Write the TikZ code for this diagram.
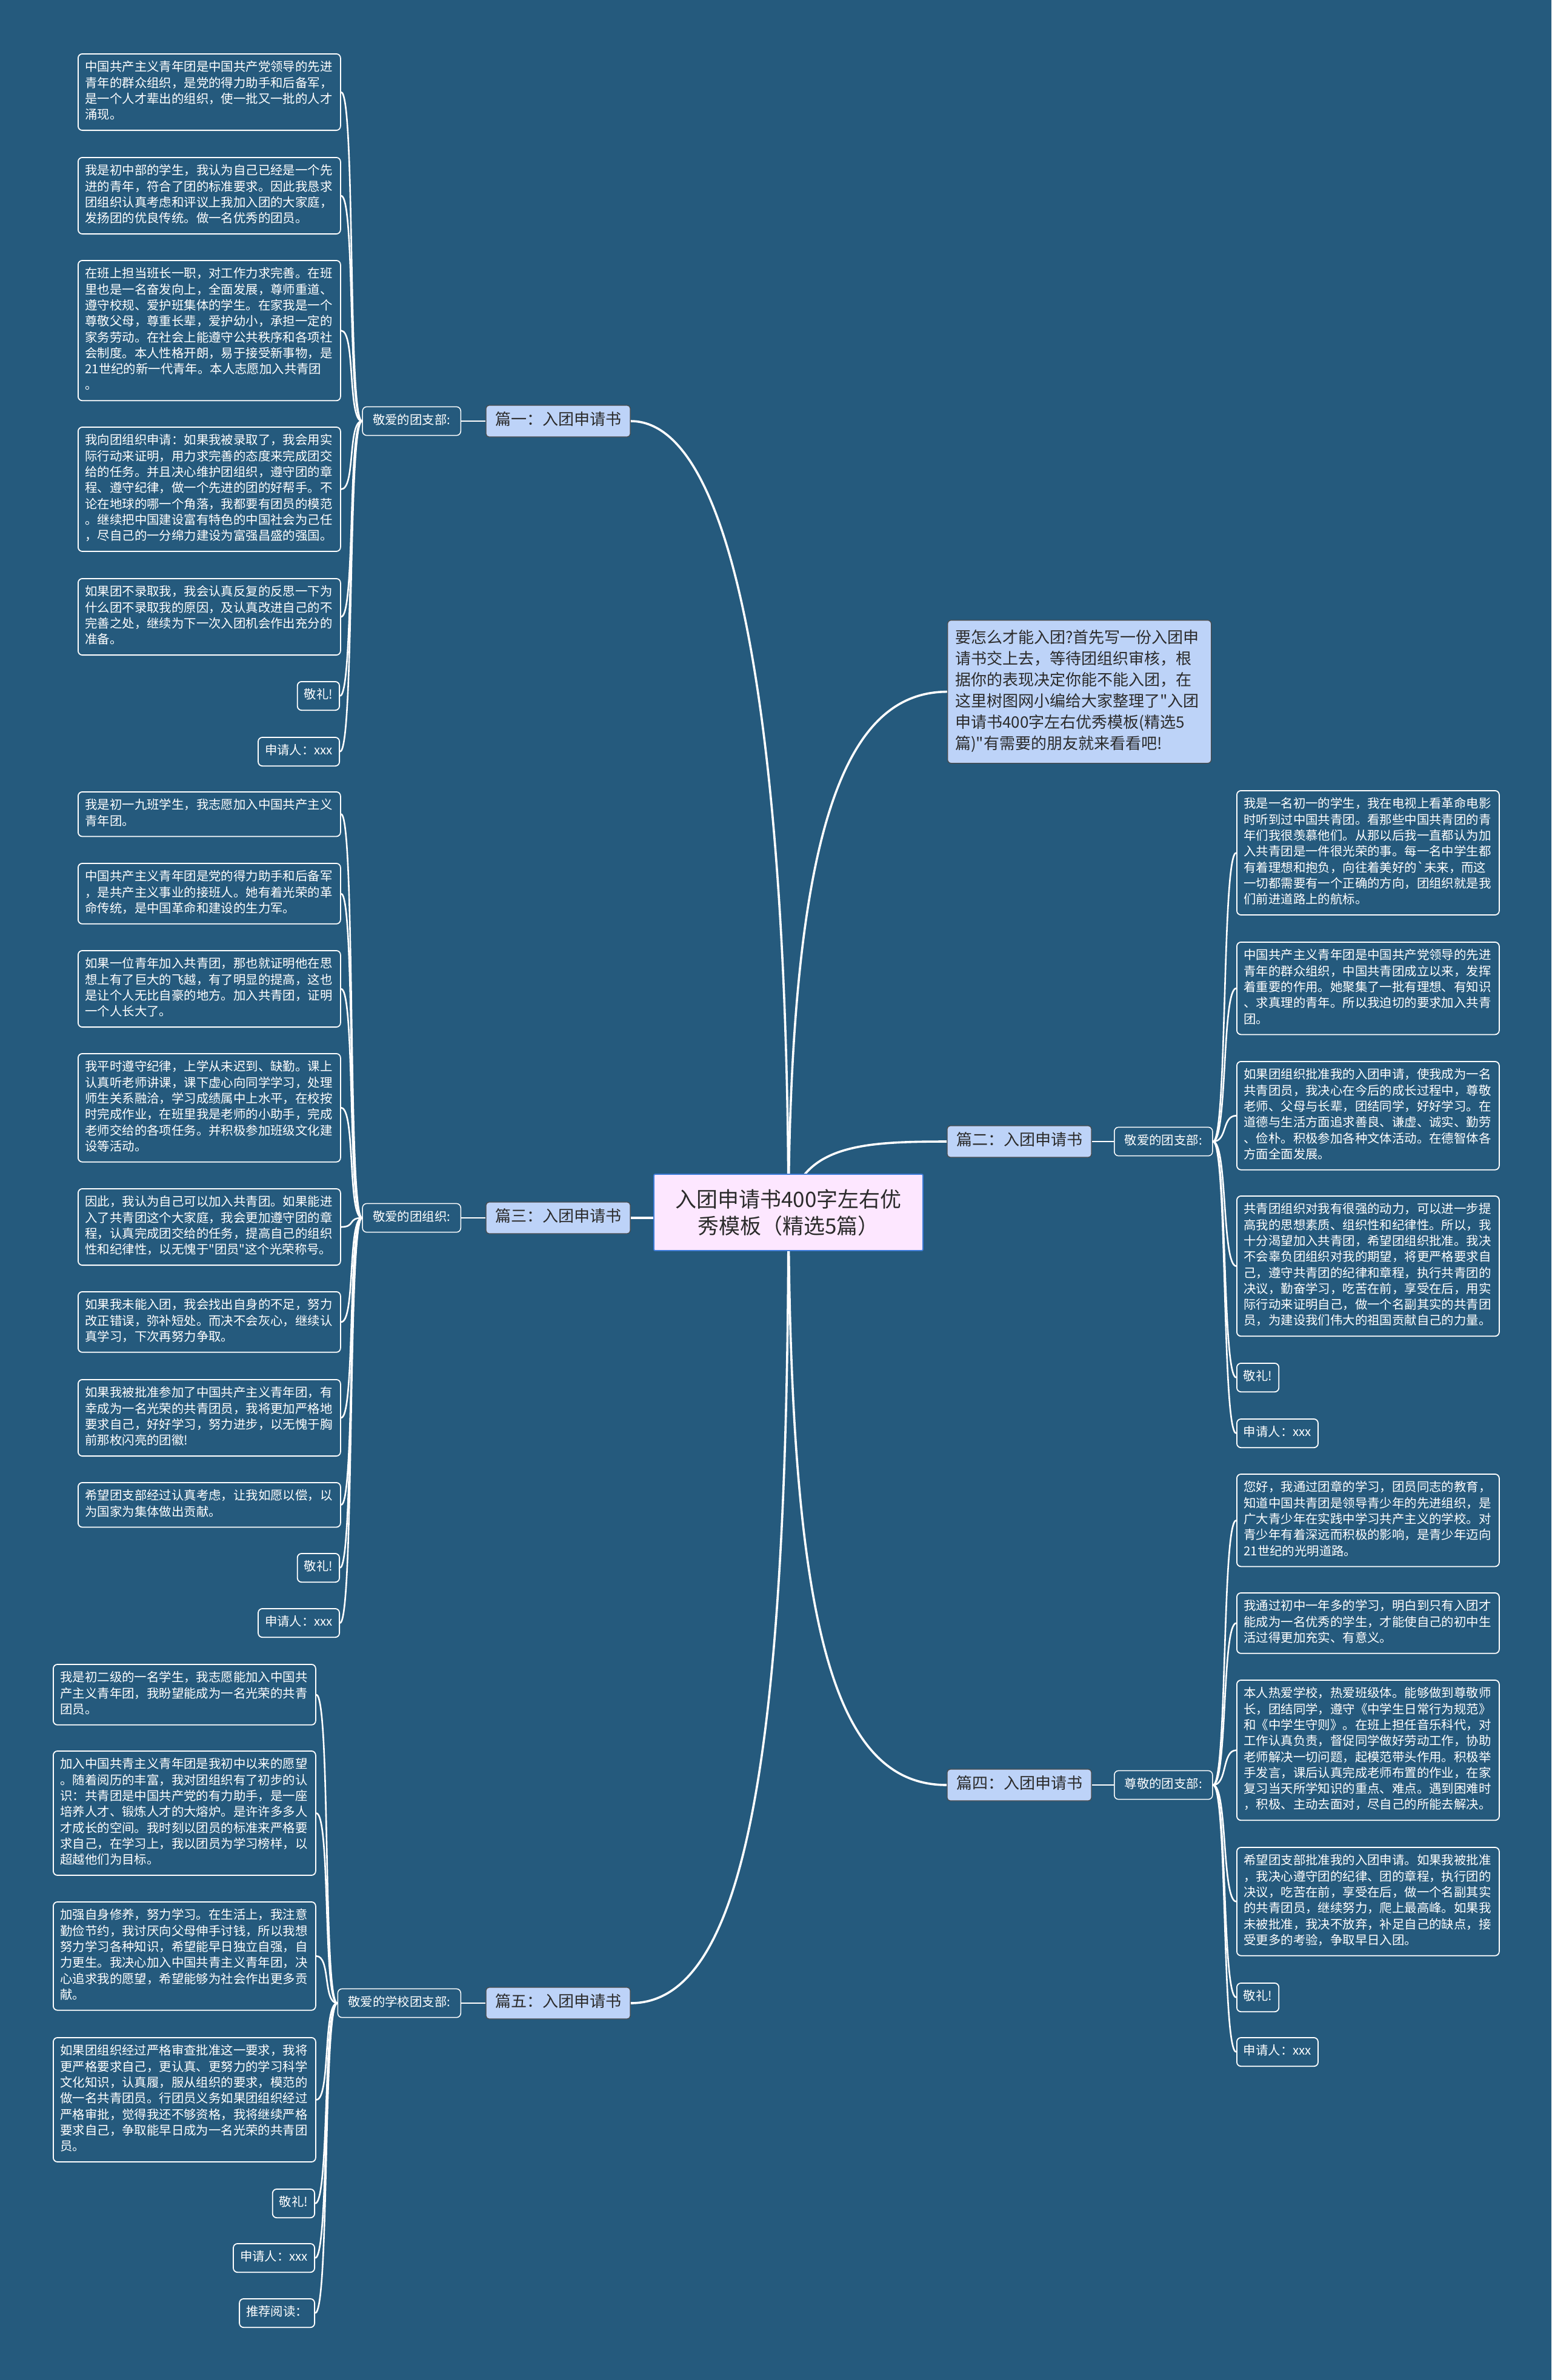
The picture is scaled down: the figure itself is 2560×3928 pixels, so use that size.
\documentclass[tikz,border=0pt]{standalone}
\usepackage{fontspec}
\setmainfont{Noto Sans CJK SC}
\newfontfamily\mmfont{Noto Sans CJK SC}
\definecolor{bgc}{HTML}{255A7D}
\definecolor{lblue}{HTML}{BDD3F8}
\definecolor{pinkc}{HTML}{FDE7FF}
\definecolor{darkt}{HTML}{2B2B2B}
\definecolor{cborder}{HTML}{3C7CD8}
\pgfdeclarelayer{bglayer}
\pgfdeclarelayer{edgelayer}
\pgfsetlayers{bglayer,edgelayer,main}
\newcommand\mmleaf{\mmfont\fontsize{20.4}{26.3}\selectfont}
\newcommand\mmbranch{\mmfont\fontsize{26}{32}\selectfont}
\newcommand\mmintro{\mmfont\fontsize{26}{35}\selectfont}
\newcommand\mmcenter{\mmfont\fontsize{35}{44}\selectfont}
\tikzset{
  leafbox/.style={draw=white, line width=1.8pt, rounded corners=7pt, fill=bgc, text=white,
    font=\mmleaf, text width=410pt, align=left, inner xsep=11.5pt, inner ysep=10.5pt,
    execute at begin node=\strut, execute at end node=\strut},
  smallbox/.style={draw=white, line width=1.8pt, rounded corners=7pt, fill=bgc, text=white,
    font=\mmleaf, inner xsep=11pt, inner ysep=10.5pt,
    execute at begin node=\strut, execute at end node=\strut},
  sublabel/.style={smallbox, line width=1.5pt, inner xsep=17pt},
  branch/.style={draw=darkt!85, line width=1.3pt, rounded corners=5pt, fill=lblue, text=darkt,
    font=\mmbranch, minimum width=238pt, inner xsep=14pt, inner ysep=10pt,
    execute at begin node=\strut},
  introbox/.style={draw=darkt!85, line width=1.3pt, rounded corners=6pt, fill=lblue, text=darkt,
    font=\mmintro, text width=410pt, align=left, inner xsep=12.5pt, inner ysep=13pt,
    execute at begin node=\strut, execute at end node=\strut},
  centerbox/.style={draw=cborder, line width=1.8pt, rounded corners=2pt, fill=pinkc, text=darkt,
    font=\mmcenter, minimum width=444pt, minimum height=126pt, align=center},
  conn/.style={white, line width=2.6pt},
  mainconn/.style={white, line width=3.6pt}
}
\begin{document}
\begin{tikzpicture}[x=1pt,y=-1pt]
\useasboundingbox (0,0) rectangle (2560,3928);
\begin{pgfonlayer}{bglayer}
\fill[bgc] (0,0) rectangle (2560,3928);
\end{pgfonlayer}

% center
\node[centerbox] (ctr) at (1301,2001) {入团申请书400字左右优\\秀模板（精选5篇）};

% intro
\node[introbox, anchor=north west] (intro) at (1563,1023) {要怎么才能入团?首先写一份入团申\\请书交上去，等待团组织审核，根\\据你的表现决定你能不能入团，在\\这里树图网小编给大家整理了"入团\\申请书400字左右优秀模板(精选5\\篇)"有需要的朋友就来看看吧!};

% branches
\node[branch] (b1) at (921,695) {篇一：入团申请书};
\node[branch] (b3) at (921,2010) {篇三：入团申请书};
\node[branch] (b5) at (921,3306) {篇五：入团申请书};
\node[branch] (b2) at (1682,1884) {篇二：入团申请书};
\node[branch] (b4) at (1682,2946) {篇四：入团申请书};

% sublabels
\node[sublabel, anchor=east] (s1) at (761,695) {敬爱的团支部:};
\node[sublabel, anchor=east] (s3) at (761,2010) {敬爱的团组织:};
\node[sublabel, anchor=east] (s5) at (761,3306) {敬爱的学校团支部:};
\node[sublabel, anchor=west] (s2) at (1838,1884) {敬爱的团支部:};
\node[sublabel, anchor=west] (s4) at (1838,2946) {尊敬的团支部:};

% ---- 篇一 leaves
\node[leafbox, anchor=north west] (a1) at (128,88) {中国共产主义青年团是中国共产党领导的先进\\青年的群众组织，是党的得力助手和后备军，\\是一个人才辈出的组织，使一批又一批的人才\\涌现。};
\node[leafbox, anchor=north west] (a2) at (128,259) {我是初中部的学生，我认为自己已经是一个先\\进的青年，符合了团的标准要求。因此我恳求\\团组织认真考虑和评议上我加入团的大家庭，\\发扬团的优良传统。做一名优秀的团员。};
\node[leafbox, anchor=north west] (a3) at (128,429) {在班上担当班长一职，对工作力求完善。在班\\里也是一名奋发向上，全面发展，尊师重道、\\遵守校规、爱护班集体的学生。在家我是一个\\尊敬父母，尊重长辈，爱护幼小，承担一定的\\家务劳动。在社会上能遵守公共秩序和各项社\\会制度。本人性格开朗，易于接受新事物，是\\21世纪的新一代青年。本人志愿加入共青团\\。};
\node[leafbox, anchor=north west] (a4) at (128,704) {我向团组织申请：如果我被录取了，我会用实\\际行动来证明，用力求完善的态度来完成团交\\给的任务。并且决心维护团组织，遵守团的章\\程、遵守纪律，做一个先进的团的好帮手。不\\论在地球的哪一个角落，我都要有团员的模范\\。继续把中国建设富有特色的中国社会为己任\\，尽自己的一分绵力建设为富强昌盛的强国。};
\node[leafbox, anchor=north west] (a5) at (128,954) {如果团不录取我，我会认真反复的反思一下为\\什么团不录取我的原因，及认真改进自己的不\\完善之处，继续为下一次入团机会作出充分的\\准备。};
\node[smallbox, anchor=north east] (a6) at (561,1124) {敬礼!};
\node[smallbox, anchor=north east] (a7) at (561,1216) {申请人：xxx};

% ---- 篇三 leaves
\node[leafbox, anchor=north west] (c1) at (128,1306) {我是初一九班学生，我志愿加入中国共产主义\\青年团。};
\node[leafbox, anchor=north west] (c2) at (128,1424) {中国共产主义青年团是党的得力助手和后备军\\，是共产主义事业的接班人。她有着光荣的革\\命传统，是中国革命和建设的生力军。};
\node[leafbox, anchor=north west] (c3) at (128,1568) {如果一位青年加入共青团，那也就证明他在思\\想上有了巨大的飞越，有了明显的提高，这也\\是让个人无比自豪的地方。加入共青团，证明\\一个人长大了。};
\node[leafbox, anchor=north west] (c4) at (128,1738) {我平时遵守纪律，上学从未迟到、缺勤。课上\\认真听老师讲课，课下虚心向同学学习，处理\\师生关系融洽，学习成绩属中上水平，在校按\\时完成作业，在班里我是老师的小助手，完成\\老师交给的各项任务。并积极参加班级文化建\\设等活动。};
\node[leafbox, anchor=north west] (c5) at (128,1961) {因此，我认为自己可以加入共青团。如果能进\\入了共青团这个大家庭，我会更加遵守团的章\\程，认真完成团交给的任务，提高自己的组织\\性和纪律性，以无愧于"团员"这个光荣称号。};
\node[leafbox, anchor=north west] (c6) at (128,2131) {如果我未能入团，我会找出自身的不足，努力\\改正错误，弥补短处。而决不会灰心，继续认\\真学习，下次再努力争取。};
\node[leafbox, anchor=north west] (c7) at (128,2276) {如果我被批准参加了中国共产主义青年团，有\\幸成为一名光荣的共青团员，我将更加严格地\\要求自己，好好学习，努力进步，以无愧于胸\\前那枚闪亮的团徽!};
\node[leafbox, anchor=north west] (c8) at (128,2446) {希望团支部经过认真考虑，让我如愿以偿，以\\为国家为集体做出贡献。};
\node[smallbox, anchor=north east] (c9) at (561,2563) {敬礼!};
\node[smallbox, anchor=north east] (c10) at (561,2654) {申请人：xxx};

% ---- 篇五 leaves
\node[leafbox, anchor=north west] (e1) at (87,2746) {我是初二级的一名学生，我志愿能加入中国共\\产主义青年团，我盼望能成为一名光荣的共青\\团员。};
\node[leafbox, anchor=north west] (e2) at (87,2889) {加入中国共青主义青年团是我初中以来的愿望\\。随着阅历的丰富，我对团组织有了初步的认\\识：共青团是中国共产党的有力助手，是一座\\培养人才、锻炼人才的大熔炉。是许许多多人\\才成长的空间。我时刻以团员的标准来严格要\\求自己，在学习上，我以团员为学习榜样，以\\超越他们为目标。};
\node[leafbox, anchor=north west] (e3) at (87,3138) {加强自身修养，努力学习。在生活上，我注意\\勤俭节约，我讨厌向父母伸手讨钱，所以我想\\努力学习各种知识，希望能早日独立自强，自\\力更生。我决心加入中国共青主义青年团，决\\心追求我的愿望，希望能够为社会作出更多贡\\献。};
\node[leafbox, anchor=north west] (e4) at (87,3362) {如果团组织经过严格审查批准这一要求，我将\\更严格要求自己，更认真、更努力的学习科学\\文化知识，认真履，服从组织的要求，模范的\\做一名共青团员。行团员义务如果团组织经过\\严格审批，觉得我还不够资格，我将继续严格\\要求自己，争取能早日成为一名光荣的共青团\\员。};
\node[smallbox, anchor=north east] (e5) at (520,3612) {敬礼!};
\node[smallbox, anchor=north east] (e6) at (520,3702) {申请人：xxx};
\node[smallbox, anchor=north east] (e7) at (520,3793) {推荐阅读：};

% ---- 篇二 leaves
\node[leafbox, anchor=north west] (r1) at (2040,1304) {我是一名初一的学生，我在电视上看革命电影\\时听到过中国共青团。看那些中国共青团的青\\年们我很羡慕他们。从那以后我一直都认为加\\入共青团是一件很光荣的事。每一名中学生都\\有着理想和抱负，向往着美好的`未来，而这\\一切都需要有一个正确的方向，团组织就是我\\们前进道路上的航标。};
\node[leafbox, anchor=north west] (r2) at (2040,1554) {中国共产主义青年团是中国共产党领导的先进\\青年的群众组织，中国共青团成立以来，发挥\\着重要的作用。她聚集了一批有理想、有知识\\、求真理的青年。所以我迫切的要求加入共青\\团。};
\node[leafbox, anchor=north west] (r3) at (2040,1751) {如果团组织批准我的入团申请，使我成为一名\\共青团员，我决心在今后的成长过程中，尊敬\\老师、父母与长辈，团结同学，好好学习。在\\道德与生活方面追求善良、谦虚、诚实、勤劳\\、俭朴。积极参加各种文体活动。在德智体各\\方面全面发展。};
\node[leafbox, anchor=north west] (r4) at (2040,1973) {共青团组织对我有很强的动力，可以进一步提\\高我的思想素质、组织性和纪律性。所以，我\\十分渴望加入共青团，希望团组织批准。我决\\不会辜负团组织对我的期望，将更严格要求自\\己，遵守共青团的纪律和章程，执行共青团的\\决议，勤奋学习，吃苦在前，享受在后，用实\\际行动来证明自己，做一个名副其实的共青团\\员，为建设我们伟大的祖国贡献自己的力量。};
\node[smallbox, anchor=north west] (r5) at (2040,2249) {敬礼!};
\node[smallbox, anchor=north west] (r6) at (2040,2341) {申请人：xxx};

% ---- 篇四 leaves
\node[leafbox, anchor=north west] (t1) at (2040,2432) {您好，我通过团章的学习，团员同志的教育，\\知道中国共青团是领导青少年的先进组织，是\\广大青少年在实践中学习共产主义的学校。对\\青少年有着深远而积极的影响，是青少年迈向\\21世纪的光明道路。};
\node[leafbox, anchor=north west] (t2) at (2040,2628) {我通过初中一年多的学习，明白到只有入团才\\能成为一名优秀的学生，才能使自己的初中生\\活过得更加充实、有意义。};
\node[leafbox, anchor=north west] (t3) at (2040,2772) {本人热爱学校，热爱班级体。能够做到尊敬师\\长，团结同学，遵守《中学生日常行为规范》\\和《中学生守则》。在班上担任音乐科代，对\\工作认真负责，督促同学做好劳动工作，协助\\老师解决一切问题，起模范带头作用。积极举\\手发言，课后认真完成老师布置的作业，在家\\复习当天所学知识的重点、难点。遇到困难时\\，积极、主动去面对，尽自己的所能去解决。};
\node[leafbox, anchor=north west] (t4) at (2040,3048) {希望团支部批准我的入团申请。如果我被批准\\，我决心遵守团的纪律、团的章程，执行团的\\决议，吃苦在前，享受在后，做一个名副其实\\的共青团员，继续努力，爬上最高峰。如果我\\未被批准，我决不放弃，补足自己的缺点，接\\受更多的考验，争取早日入团。};
\node[smallbox, anchor=north west] (t5) at (2040,3272) {敬礼!};
\node[smallbox, anchor=north west] (t6) at (2040,3362) {申请人：xxx};

% ---- connectors
\begin{pgfonlayer}{edgelayer}
\draw[mainconn] (ctr.center) .. controls (1300,1300) and (1230,695) .. (b1.east);
\draw[mainconn] (ctr.center) .. controls (1305,1350) and (1400,1142) .. (intro.west);
\draw[mainconn] (ctr.center) .. controls (1320,1890) and (1420,1884) .. (b2.west);
\draw[mainconn] (b3.east) -- (b3.east -| ctr.center);
\draw[mainconn] (ctr.center) .. controls (1305,2700) and (1380,2946) .. (b4.west);
\draw[mainconn] (ctr.center) .. controls (1300,2900) and (1230,3306) .. (b5.east);
\draw[conn] (b1.west) -- (s1.east);
\draw[conn] (b3.west) -- (s3.east);
\draw[conn] (b5.west) -- (s5.east);
\draw[conn] (b2.east) -- (s2.west);
\draw[conn] (b4.east) -- (s4.west);
\foreach \n in {a1,a2,a3,a4,a5,a6,a7}
  \draw[conn] (s1.west) .. controls +(-24,0) and +(24,0) .. (\n.east);
\foreach \n in {c1,c2,c3,c4,c5,c6,c7,c8,c9,c10}
  \draw[conn] (s3.west) .. controls +(-24,0) and +(24,0) .. (\n.east);
\foreach \n in {e1,e2,e3,e4,e5,e6,e7}
  \draw[conn] (s5.west) .. controls +(-24,0) and +(24,0) .. (\n.east);
\foreach \n in {r1,r2,r3,r4,r5,r6}
  \draw[conn] (s2.east) .. controls +(24,0) and +(-24,0) .. (\n.west);
\foreach \n in {t1,t2,t3,t4,t5,t6}
  \draw[conn] (s4.east) .. controls +(24,0) and +(-24,0) .. (\n.west);
\end{pgfonlayer}
\end{tikzpicture}
\end{document}
